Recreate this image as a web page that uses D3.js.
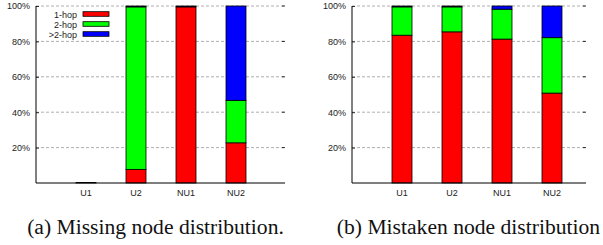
<!DOCTYPE html>
<meta charset="utf-8">
<style>
body { margin: 0; background: #fff; }
.tick text, .lbl { font-family: "Liberation Sans", Arial, sans-serif; font-size: 9px; fill: #222; }
.cap { font-family: "Liberation Serif", "Times New Roman", serif; font-size: 21.6px; fill: #111; }
.grid { stroke: #999; stroke-width: 0.8px; stroke-dasharray: 3,2; }
</style>
<body>
<script src="https://d3js.org/d3.v7.min.js"></script>
<script>

// categories and series (percent of nodes)
var categories = ["U1", "U2", "NU1", "NU2"];
var series = ["1-hop", "2-hop", ">2-hop"];
var colors = ["#ff0000", "#00ff00", "#0000ff"];
var yTicks = [20, 40, 60, 80, 100];

// (a) missing node distribution
var missOneHop   = [0,   7.7, 99.5, 22.7];
var missTwoHop   = [0,  91.8,  0,   24.0];
var missMoreHop  = [0.3, 0.5,  0.5, 53.3];

// (b) mistaken node distribution
var mistOneHop   = [83.5, 85.4, 81.3, 50.8];
var mistTwoHop   = [16.0, 14.1, 16.9, 31.3];
var mistMoreHop  = [0.5,   0.5,  1.8, 17.9];

var svg = d3.select("body").append("svg")
    .attr("width", 603)
    .attr("height", 245);

function panel(left, width, data, legend, caption, capX) {
  var top = 6, bottom = 183;
  var g = svg.append("g").attr("transform", "translate(" + left + ",0)");

  var x = d3.scaleLinear().domain([0, 5]).range([0, 250]);
  var y = d3.scaleLinear().domain([0, 100]).range([bottom, top]);

  // dashed grid
  g.selectAll(".grid").data(yTicks).enter().append("line")
      .attr("class", "grid")
      .attr("x1", 0).attr("x2", width)
      .attr("y1", function(d) { return y(d); })
      .attr("y2", function(d) { return y(d); });

  // right side ticks
  g.selectAll(".rt").data(yTicks).enter().append("line")
      .attr("x1", width - 3).attr("x2", width)
      .attr("y1", function(d) { return y(d); })
      .attr("y2", function(d) { return y(d); })
      .attr("stroke", "#000").attr("stroke-width", 0.8);

  // y axis
  var ya = g.append("g")
      .call(d3.axisLeft(y).tickValues(yTicks).tickSize(-3).tickPadding(6)
        .tickFormat(function(d) { return d + "%"; }));
  ya.select(".domain").remove();
  ya.selectAll(".tick line").attr("stroke-width", 0.8);

  // stacked bars
  var rows = categories.map(function(c, i) {
    var o = {cat: c, idx: i + 1};
    series.forEach(function(s, k) { o[s] = data[k][i]; });
    return o;
  });
  var stacked = d3.stack().keys(series)(rows);
  stacked.forEach(function(layer, k) {
    g.selectAll(".b" + k).data(layer).enter().append("rect")
        .attr("x", function(d) { return x(d.data.idx) - 10; })
        .attr("width", 20)
        .attr("y", function(d) { return y(d[1]); })
        .attr("height", function(d) { return y(d[0]) - y(d[1]); })
        .attr("fill", colors[k])
        .attr("stroke", "#000")
        .attr("stroke-width", 0.8);
  });

  // axes lines
  g.append("line").attr("x1", 0).attr("x2", 0).attr("y1", top).attr("y2", bottom)
      .attr("stroke", "#000").attr("stroke-width", 1);
  g.append("line").attr("x1", 0).attr("x2", width).attr("y1", bottom).attr("y2", bottom)
      .attr("stroke", "#000").attr("stroke-width", 1);

  // x labels
  g.selectAll(".xl").data(categories).enter().append("text")
      .attr("class", "lbl")
      .attr("x", function(d, i) { return x(i + 1); })
      .attr("y", 196)
      .attr("text-anchor", "middle")
      .text(function(d) { return d; });

  if (legend) {
    series.forEach(function(s, k) {
      var ly = 14 + k * 10;
      g.append("text").attr("class", "lbl")
          .attr("x", 41).attr("y", ly + 3.5)
          .attr("text-anchor", "end").text(s);
      g.append("rect").attr("x", 47).attr("y", ly - 2.3)
          .attr("width", 26).attr("height", 4.6)
          .attr("fill", colors[k]).attr("stroke", "#000").attr("stroke-width", 0.8);
    });
  }

  svg.append("text").attr("class", "cap")
      .attr("x", capX).attr("y", 234)
      .attr("text-anchor", "middle")
      .text(caption);
}

panel(36, 249, [missOneHop, missTwoHop, missMoreHop], true,
      "(a) Missing node distribution.", 155.5);
panel(352, 234, [mistOneHop, mistTwoHop, mistMoreHop], false,
      "(b) Mistaken node distribution", 468.5);

</script>
</body>
